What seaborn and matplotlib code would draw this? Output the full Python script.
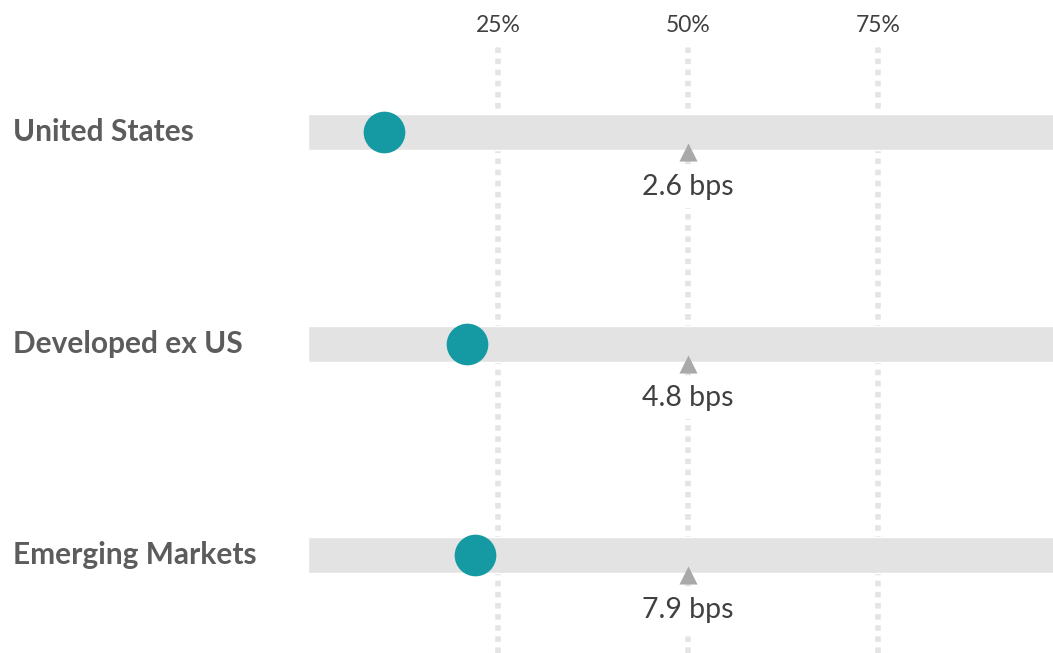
import numpy as np
import pandas as pd
import matplotlib
matplotlib.use('Agg')
import matplotlib.pyplot as plt
import matplotlib.transforms as mtransforms
import seaborn as sns

regions = ['United States', 'Developed ex US', 'Emerging Markets']
percentile = [10.0, 20.9, 22.0]
median_pct = [50, 50, 50]
median_labels = ['2.6 bps', '4.8 bps', '7.9 bps']
tick_vals = [25, 50, 75]
tick_labels = ['25%', '50%', '75%']

sns.set_style('white')
plt.rcParams['font.family'] = ['Lato', 'DejaVu Sans']

df = pd.DataFrame({'region': regions, 'pct': percentile, 'full': [100] * 3})

fig = plt.figure(figsize=(10.53, 6.53), dpi=100)
ax = fig.add_axes([308 / 1053, 0, 745 / 1053, 607 / 653])

# background band
sns.barplot(data=df, x='full', y='region', orient='h', color='#e3e3e3',
            width=0.17, saturation=1, ax=ax, zorder=1)

# dotted vertical guides
for v in tick_vals:
    ax.axvline(v, color='#e4e4e4', lw=4, ls=(0, (1, 1)), zorder=0.5)

# median triangles and labels
ypos = np.arange(len(regions))
ax.scatter(median_pct, ypos + 0.095, marker='^', s=170, color='#a9a9a9',
           zorder=3, linewidths=0)
for y, m, lab in zip(ypos, median_pct, median_labels):
    ax.text(m, y + 0.258, lab, ha='center', va='center', fontsize=20.5,
            color='#404040', zorder=4,
            bbox=dict(facecolor='white', edgecolor='none', pad=6))

# dots
sns.scatterplot(data=df, x='pct', y='region', s=900, color='#1599a2',
                linewidth=0, ax=ax, zorder=5)

ax.set_xlim(0, 98)
ax.set_ylim(2.463, -0.4066)
ax.xaxis.tick_top()
ax.set_xticks(tick_vals)
ax.set_xticklabels(tick_labels, fontsize=16.5, color='#404040')
ax.tick_params(axis='x', length=0, pad=7)
ax.set_yticks([])
ax.set_xlabel('')
ax.set_ylabel('')
for s in ax.spines.values():
    s.set_visible(False)

trans = mtransforms.blended_transform_factory(fig.transFigure, ax.transData)
for y, name in zip(ypos, regions):
    ax.text(13 / 1053, y, name, transform=trans, ha='left', va='center',
            fontsize=21.5, fontweight='bold', color='#5c5c5c')

fig.savefig('out.png', dpi=100)
